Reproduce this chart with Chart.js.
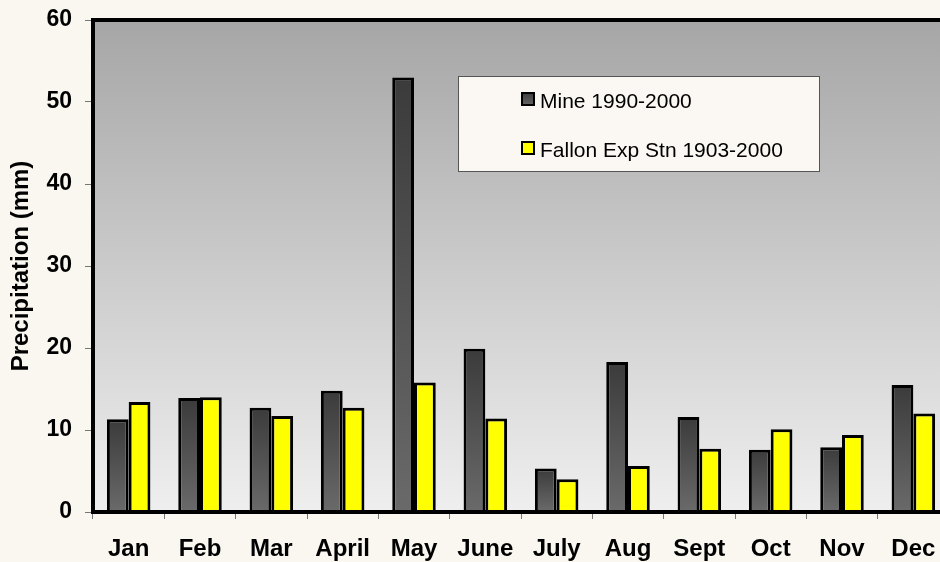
<!DOCTYPE html>
<html>
<head>
<meta charset="utf-8">
<script src="https://cdn.jsdelivr.net/npm/chart.js@4.4.1/dist/chart.umd.min.js"></script>
<style>
html, body { margin: 0; padding: 0; background: #faf6f0; overflow: hidden; width: 940px; height: 562px; }
#wrap { position: absolute; left: 0; top: 0; width: 952px; height: 562px; }
</style>
</head>
<body>
<div id="wrap"><canvas id="chart" width="952" height="562"></canvas></div>
<script>
// Data
const months = ['Jan', 'Feb', 'Mar', 'April', 'May', 'June', 'July', 'Aug', 'Sept', 'Oct', 'Nov', 'Dec'];
const mine = [11.3, 13.9, 12.7, 14.8, 53.0, 19.9, 5.3, 18.3, 11.6, 7.6, 7.9, 15.5];
const fallon = [13.4, 14.0, 11.7, 12.7, 15.8, 11.4, 4.0, 5.6, 7.7, 10.1, 9.4, 12.0];
const yTicks = [0, 10, 20, 30, 40, 50, 60];
const seriesNames = ['Mine 1990-2000', 'Fallon Exp Stn 1903-2000'];

const FONT = "'Liberation Sans', Arial, sans-serif";

function darkGradient(c, top, bottom) {
    const g = c.createLinearGradient(0, top, 0, bottom);
    g.addColorStop(0, '#3b3b3b');
    g.addColorStop(1, '#6a6a6a');
    return g;
}

// plot background + frame + legend box
const decorPlugin = {
    id: 'decor',
    beforeDraw(chart) {
        const { ctx, chartArea: a } = chart;
        const g = ctx.createLinearGradient(0, a.top, 0, a.bottom);
        g.addColorStop(0, '#a6a6a6');
        g.addColorStop(1, '#efefef');
        ctx.save();
        ctx.fillStyle = g;
        ctx.fillRect(a.left, a.top, a.right - a.left, a.bottom - a.top);
        ctx.restore();
    },
    afterDatasetsDraw(chart) {
        const { ctx, chartArea: a } = chart;
        ctx.save();
        ctx.strokeStyle = '#000';
        ctx.lineWidth = 4;
        ctx.strokeRect(a.left, a.top, a.right - a.left, a.bottom - a.top);

        // legend
        ctx.fillStyle = '#fbf7f2';
        ctx.fillRect(458, 76, 362, 96);
        ctx.lineWidth = 1;
        ctx.strokeStyle = '#555';
        ctx.strokeRect(458.5, 76.5, 361, 95);

        const items = [
            { y: 92, fill: darkGradient(ctx, 92, 107) },
            { y: 141, fill: '#ffff00' }
        ];
        ctx.font = '21px ' + FONT;
        ctx.textBaseline = 'middle';
        items.forEach((it, i) => {
            ctx.fillStyle = it.fill;
            ctx.fillRect(521, it.y, 14, 14);
            ctx.lineWidth = 2;
            ctx.strokeStyle = '#000';
            ctx.strokeRect(522, it.y + 1, 12, 12);
            ctx.fillStyle = '#000';
            ctx.fillText(chart.data.datasets[i].label, 540, it.y + 10);
        });
        ctx.restore();
    }
};

new Chart(document.getElementById('chart'), {
    type: 'bar',
    data: {
        labels: months,
        datasets: [
            {
                label: seriesNames[0],
                data: mine,
                backgroundColor: (c) => {
                    const chart = c.chart;
                    if (!chart.chartArea || c.type !== 'data') return '#555';
                    const y = chart.scales.y;
                    return darkGradient(chart.ctx, y.getPixelForValue(c.raw), y.getPixelForValue(0));
                },
                borderColor: '#000',
                borderWidth: 3,
                categoryPercentage: 0.61,
                barPercentage: 1
            },
            {
                label: seriesNames[1],
                data: fallon,
                backgroundColor: '#ffff00',
                borderColor: '#000',
                borderWidth: 3,
                categoryPercentage: 0.61,
                barPercentage: 1
            }
        ]
    },
    options: {
        responsive: false,
        animation: false,
        layout: { padding: { top: 20, left: 0, right: 3, bottom: 0 } },
        plugins: {
            legend: { display: false },
            tooltip: { enabled: false }
        },
        scales: {
            x: {
                grid: { display: true, drawOnChartArea: false, offset: true, tickLength: 7, color: '#777', lineWidth: 1 },
                border: { display: false },
                ticks: { color: '#000', font: { family: FONT, size: 24, weight: 'bold' }, padding: 16 },
                afterFit: (s) => { s.height = 50; s.paddingLeft = 0; s.paddingRight = 0; }
            },
            y: {
                min: yTicks[0],
                max: yTicks[yTicks.length - 1],
                afterBuildTicks: (s) => { s.ticks = yTicks.map(v => ({ value: v })); },
                grid: { display: true, drawOnChartArea: false, tickLength: 8, color: '#777', lineWidth: 1 },
                border: { display: false },
                ticks: { color: '#000', font: { family: FONT, size: 23, weight: 'bold' }, padding: 13 },
                title: {
                    display: true,
                    text: 'Precipitation (mm)',
                    color: '#000',
                    font: { family: FONT, size: 24, weight: 'bold' },
                    padding: { top: 7, bottom: 0 }
                },
                afterFit: (s) => { s.width = 93; s.paddingTop = 0; s.paddingBottom = 0; }
            }
        }
    },
    plugins: [decorPlugin]
});
</script>
</body>
</html>
